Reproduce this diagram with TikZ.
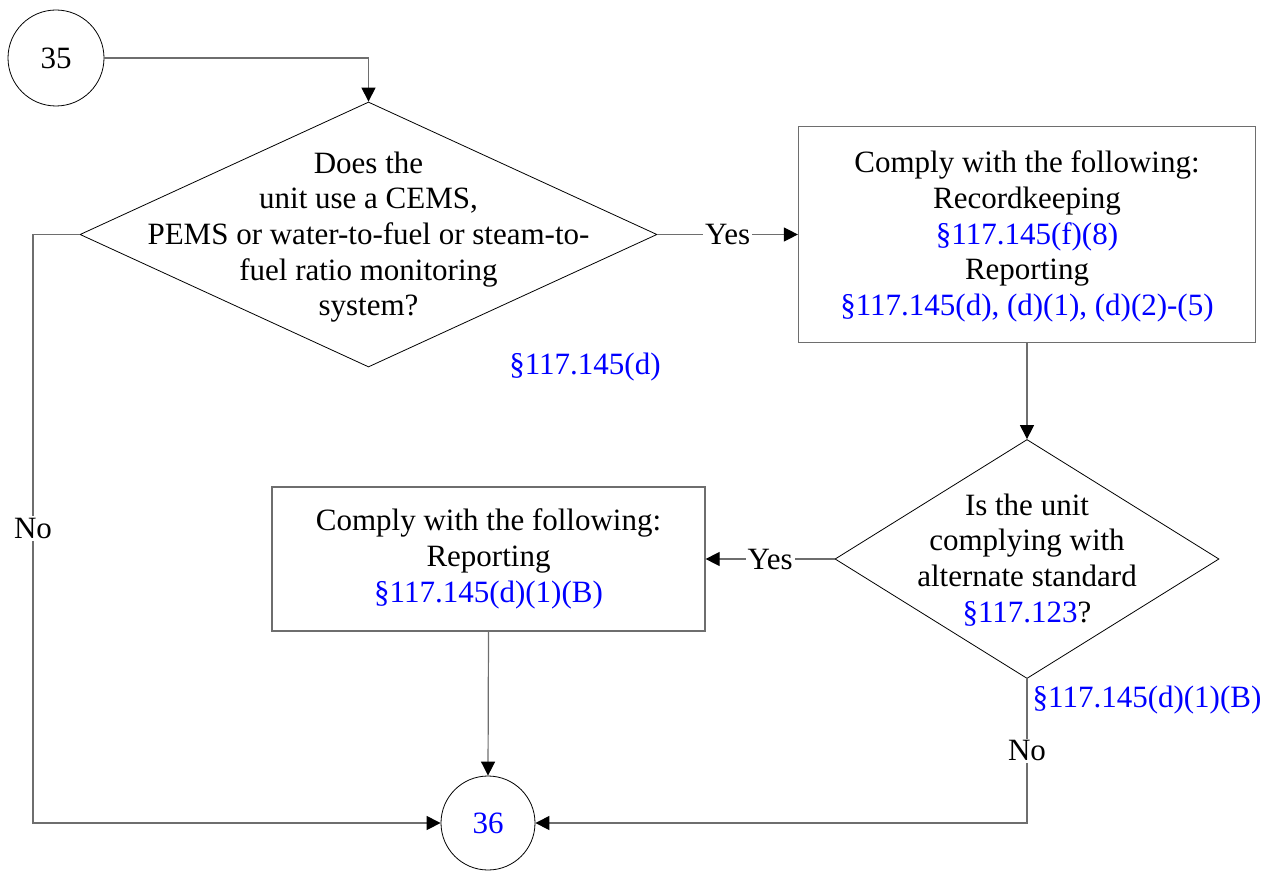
\documentclass[tikz,border=0pt]{standalone}
\usepackage{fontspec}
\setmainfont{Liberation Serif}
\usetikzlibrary{shapes.geometric,arrows.meta}
\definecolor{conngray}{HTML}{6E6E6E}
\definecolor{refblue}{HTML}{0000FF}
\begin{document}
\begin{tikzpicture}[x=1pt,y=-1pt,
  every node/.style={font=\fontsize{31}{35.7}\selectfont},
  term/.style={circle,draw=black,line width=0.8pt,minimum size=96pt,inner sep=0pt},
  decision/.style={diamond,draw=black,line width=0.8pt,inner sep=0pt},
  procbox/.style={rectangle,draw=conngray,line width=1.2pt,inner sep=0pt,align=center},
  txt/.style={align=center,inner sep=0pt},
  ref/.style={text=refblue,inner sep=0pt},
  link/.style={draw=conngray,line width=1.2pt,-{Triangle[length=14pt,width=14pt,color=black]}},
  lbl/.style={fill=white,inner sep=2pt}
]
\useasboundingbox (0,0) rectangle (1268,872);

\node[term] (c35) at (56,58) {35};
\node[decision,minimum width=577pt,minimum height=265pt] (d1) at (368.5,234.5) {};
\node[txt] (d1t) at (368.5,237) {Does the\\unit use a CEMS,\\PEMS or water-to-fuel or steam-to-\\fuel ratio monitoring\\system?};

\node[procbox,minimum width=457pt,minimum height=216pt] (b1) at (1027,234.5) {};
\node[txt] (b1t) at (1027,236.5)
  {Comply with the following:\\Recordkeeping\\\textcolor{refblue}{§117.145(f)(8)}\\Reporting\\\textcolor{refblue}{§117.145(d), (d)(1), (d)(2)-(5)}};

\node[decision,minimum width=384pt,minimum height=239pt] (d2) at (1027,559) {};
\node[txt] (d2t) at (1027,560) {Is the unit\\complying with\\alternate standard\\\textcolor{refblue}{§117.123}?};

\node[procbox,minimum width=433pt,minimum height=144pt] (b2) at (488.5,559)
  {Comply with the following:\\Reporting\\\textcolor{refblue}{§117.145(d)(1)(B)}};

\node[term,minimum size=94pt,text=refblue] (c36) at (488,823) {36};

\node[ref] (r1) at (585,367) {§117.145(d)};
\node[ref] (r2) at (1147,700) {§117.145(d)(1)(B)};

\coordinate (nl) at (33,234.5);

\draw[link] (c35.east) -| (d1.north);
\draw[link] (d1.east) -- node[lbl]{Yes} (b1.west);
\draw[link] (b1.south) -- (d2.north);
\draw[link] (d2.west) -- node[lbl]{Yes} (b2.east);
\draw[link] (b2.south) -- (c36.north);
\draw[link] (d1.west) -- (nl) |- node[lbl,pos=0.25]{No} (c36.west);
\draw[link] (d2.south) |- node[lbl,pos=0.25]{No} (c36.east);
\end{tikzpicture}
\end{document}
